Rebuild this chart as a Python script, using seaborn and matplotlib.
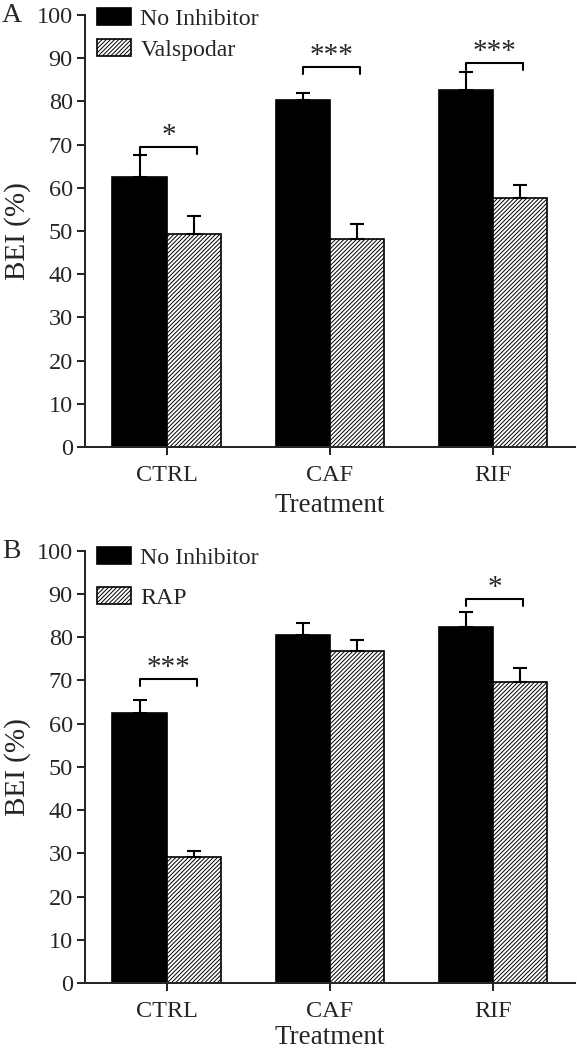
import pandas as pd
import matplotlib.pyplot as plt
import matplotlib.patches as mpatches
import seaborn as sns

sns.set_style('ticks')
plt.rcParams['font.family'] = ['Liberation Serif', 'DejaVu Serif']
plt.rcParams['hatch.linewidth'] = 0.7

treatments = ['CTRL', 'CAF', 'RIF']

# panel A
a_groups = ['No Inhibitor', 'Valspodar']
a_no_inh = [62.5, 80.4, 82.6]
a_no_inh_err = [5.1, 1.6, 4.3]
a_valsp = [49.3, 48.1, 57.6]
a_valsp_err = [4.2, 3.5, 3.0]
a_sig = ['*', '***', '***']
a_bracket = [69.5, 88.0, 89.0]

# panel B
b_groups = ['No Inhibitor', 'RAP']
b_no_inh = [62.5, 80.5, 82.4]
b_no_inh_err = [2.9, 2.8, 3.4]
b_rap = [29.1, 76.8, 69.5]
b_rap_err = [1.4, 2.5, 3.4]
b_sig = ['***', '', '*']
b_bracket = [70.4, None, 88.9]


def draw_panel(ax, groups, v1, e1, v2, e2, sig, brk, letter, lspace, leg_y, xpad):
    df = pd.DataFrame({
        'Treatment': treatments * 2,
        'BEI': v1 + v2,
        'Group': [groups[0]] * 3 + [groups[1]] * 3,
    })
    sns.barplot(data=df, x='Treatment', y='BEI', hue='Group', palette=['black', 'white'],
                width=0.667, edgecolor='black', linewidth=1.2, errorbar=None,
                saturation=1, ax=ax, legend=False)
    for bar in ax.containers[1]:
        bar.set_hatch('////////')
    # one-sided error bars
    for cont, errs in zip(ax.containers, [e1, e2]):
        for bar, err in zip(cont, errs):
            xc = bar.get_x() + bar.get_width() / 2
            ax.errorbar(xc, bar.get_height(), yerr=[[0], [err]], fmt='none',
                        ecolor='black', elinewidth=1.5, capsize=5, capthick=1.5, zorder=1)
    # significance brackets
    for i, (s, y) in enumerate(zip(sig, brk)):
        if not s:
            continue
        b1 = ax.containers[0][i]
        b2 = ax.containers[1][i]
        x1 = b1.get_x() + b1.get_width() / 2
        x2 = b2.get_x() + b2.get_width() / 2 + 0.02
        ax.plot([x1, x1, x2, x2], [y - 1.7, y, y, y - 1.7], color='black', lw=1.5)
        ax.text((x1 + x2) / 2, y - 0.5, s, ha='center', va='bottom', fontsize=21)

    ax.set_ylim(0, 100)
    ax.set_yticks(range(0, 101, 10))
    ax.set_xlim(-0.502, 2.502)
    ax.set_ylabel('BEI (%)', fontsize=21, labelpad=4)
    ax.set_xlabel('Treatment', fontsize=19.5, labelpad=xpad)
    ax.tick_params(axis='y', labelsize=17.5, width=1.45, length=5.8, direction='out', pad=3)
    ax.tick_params(axis='x', labelsize=17.5, width=1.45, length=5.8, direction='out', pad=7)
    sns.despine(ax=ax)
    for sp in ['left', 'bottom']:
        ax.spines[sp].set_linewidth(1.45)

    handles = [mpatches.Patch(facecolor='black', edgecolor='black', linewidth=1.2, label=groups[0]),
               mpatches.Patch(facecolor='white', edgecolor='black', linewidth=1.2,
                              hatch='////////', label=groups[1])]
    ax.legend(handles=handles, loc='upper left', bbox_to_anchor=(0.025, leg_y), frameon=False,
              fontsize=17.2, handlelength=1.4, handleheight=0.72, handletextpad=0.4,
              labelspacing=lspace, borderaxespad=0, borderpad=0)
    ax.text(-0.17, 0.998, letter, transform=ax.transAxes, fontsize=20, va='center', ha='left')


fig = plt.figure(figsize=(5.77, 10.5), dpi=100)
ax1 = fig.add_axes([0.1473, 0.5743, 0.849, 0.4114])
ax2 = fig.add_axes([0.1473, 0.0638, 0.849, 0.4119])

draw_panel(ax1, a_groups, a_no_inh, a_no_inh_err, a_valsp, a_valsp_err, a_sig, a_bracket,
           'A', 0.37, 1.016, 5.5)
draw_panel(ax2, b_groups, b_no_inh, b_no_inh_err, b_rap, b_rap_err, b_sig, b_bracket,
           'B', 0.77, 1.008, 2.5)

fig.savefig('out.png', dpi=100)
